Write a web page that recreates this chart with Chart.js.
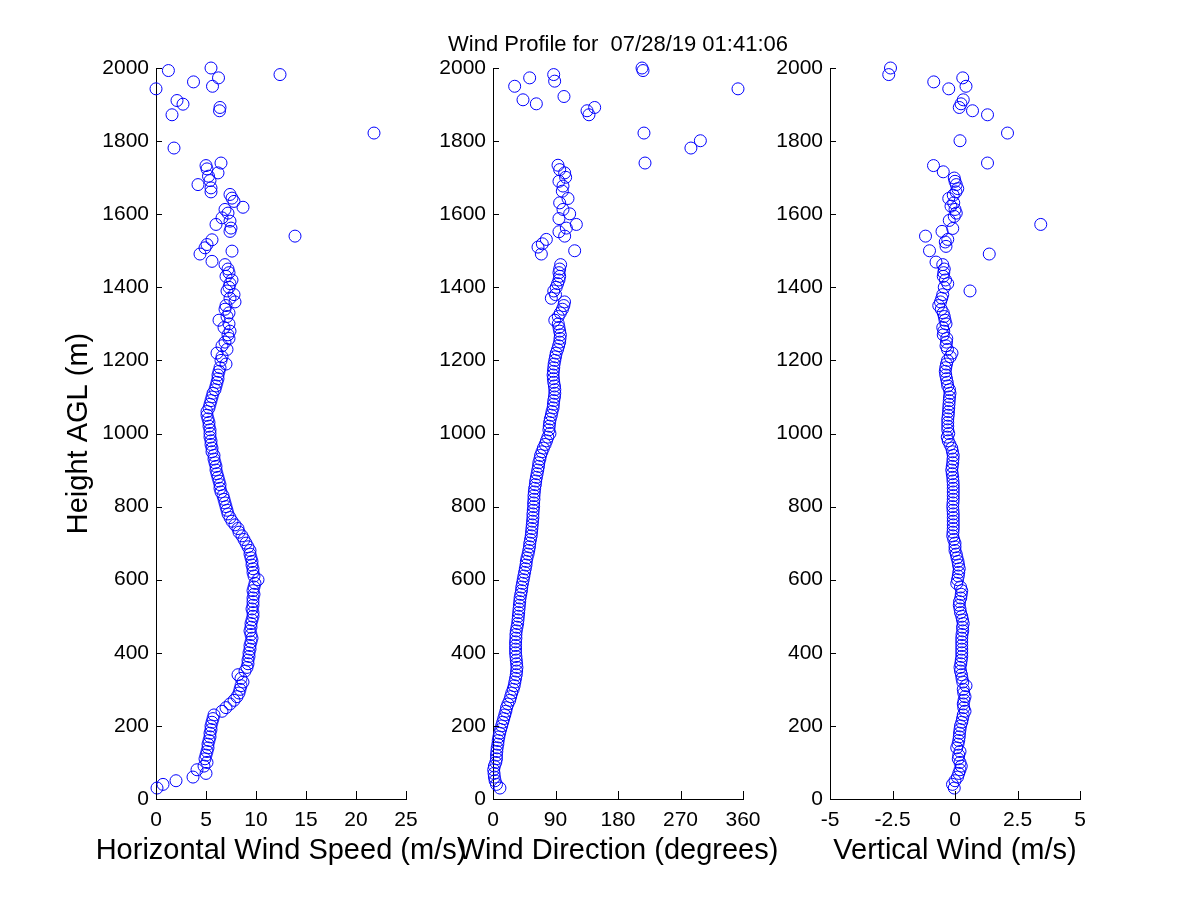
<!DOCTYPE html>
<html>
<head>
<meta charset="utf-8">
<script src="https://cdn.jsdelivr.net/npm/chart.js@4.4.1/dist/chart.umd.min.js"></script>
<style>
html,body{margin:0;padding:0;background:#fff;}
#wrap{position:relative;width:1200px;height:900px;background:#fff;}
#wrap canvas{position:absolute;left:0;top:0;}
</style>
</head>
<body>
<div id="wrap">
<canvas id="c1" width="1200" height="900"></canvas>
<canvas id="c2" width="1200" height="900"></canvas>
<canvas id="c3" width="1200" height="900"></canvas>
</div>
<script>
// ---------- DATA ----------
const titleText = 'Wind Profile for  07/28/19 01:41:06';
const yTitle = 'Height AGL (m)';
const xTitles = ['Horizontal Wind Speed (m/s)', 'Wind Direction (degrees)', 'Vertical Wind (m/s)'];

const yTicks = [0, 200, 400, 600, 800, 1000, 1200, 1400, 1600, 1800, 2000];
const speedTicks = [0, 5, 10, 15, 20, 25];
const dirTicks = [0, 90, 180, 270, 360];
const vertTicks = [-5, -2.5, 0, 2.5, 5];

// dense range gates (m)
const heights = [
  30, 40, 50, 60, 70, 80, 90, 100,
  110, 120, 130, 140, 150, 160, 170, 180, 190, 200,
  210, 220, 230, 240, 250, 260, 270, 280, 290, 300,
  310, 320, 330, 340, 350, 360, 370, 380, 390, 400,
  410, 420, 430, 440, 450, 460, 470, 480, 490, 500,
  510, 520, 530, 540, 550, 560, 570, 580, 590, 600,
  610, 620, 630, 640, 650, 660, 670, 680, 690, 700,
  710, 720, 730, 740, 750, 760, 770, 780, 790, 800,
  810, 820, 830, 840, 850, 860, 870, 880, 890, 900,
  910, 920, 930, 940, 950, 960, 970, 980, 990, 1000,
  1010, 1020, 1030, 1040, 1050, 1060, 1070, 1080, 1090, 1100,
  1110, 1120, 1130, 1140, 1150, 1160, 1170, 1180, 1190, 1200,
  1210, 1220, 1230, 1240, 1250, 1260, 1270, 1280, 1290, 1300,
  1310, 1320, 1330, 1340, 1350, 1360, 1370, 1380, 1390, 1400,
  1410, 1420, 1430, 1440, 1450
];

const speed = [
  0.1, 0.7, 2.0, 3.7, 5.0, 4.1, 4.8, 5.1,
  4.9, 5.0, 5.1, 5.2, 5.2, 5.3, 5.4, 5.4, 5.5, 5.5,
  5.6, 5.7, 5.8, 6.6, 7.0, 7.4, 7.8, 8.1, 8.3, 8.4,
  8.5, 8.7, 8.5, 8.2, 8.9, 9.1, 9.2, 9.2, 9.3, 9.3,
  9.4, 9.4, 9.5, 9.6, 9.5, 9.4, 9.5, 9.5, 9.6, 9.7,
  9.7, 9.6, 9.7, 9.7, 9.7, 9.8, 9.7, 9.8, 9.9, 10.2,
  9.8, 9.7, 9.7, 9.6, 9.6, 9.5, 9.4, 9.4, 9.2, 9.0,
  8.8, 8.6, 8.3, 8.2, 7.9, 7.6, 7.4, 7.2, 7.1, 7.0,
  6.9, 6.8, 6.7, 6.5, 6.4, 6.4, 6.3, 6.2, 6.1, 6.0,
  6.0, 5.9, 5.8, 5.8, 5.6, 5.6, 5.5, 5.5, 5.4, 5.4,
  5.4, 5.3, 5.3, 5.2, 5.1, 5.1, 5.3, 5.4, 5.5, 5.6,
  5.7, 5.9, 6.0, 6.1, 6.2, 6.2, 6.3, 6.4, 7.0, 6.5,
  6.6, 6.1, 7.1, 6.6, 6.9, 7.3, 7.2, 7.4, 6.8, 7.3,
  6.3, 7.1, 7.3, 6.9, 7.0, 7.9, 7.4, 7.8, 7.1, 7.3,
  7.4, 7.6, 7.0, 7.3, 7.2
];

const direction = [
  10, 5, 3, 2, 1.5, 1, 2, 4,
  5, 5, 5.5, 6, 7, 7.5, 8.5, 9.6, 11, 12.5,
  14, 15.5, 17, 18.5, 19.5, 21.5, 24, 25.5, 27, 29,
  30.5, 31.5, 32.5, 33.5, 34, 34.5, 34, 33.5, 33, 32.5,
  32.5, 32.5, 32.5, 33, 33, 33.5, 34.5, 35.5, 36, 36.5,
  37, 37.5, 38, 38.5, 39, 40, 41, 41.5, 42.5, 43.5,
  44.5, 45.5, 46.5, 47.5, 48, 49, 50.5, 51.5, 52.5, 53,
  54, 55, 55.5, 56, 56.5, 57, 57.5, 57.5, 58, 58.5,
  58.5, 59, 59, 59.5, 60, 61, 61.5, 62.5, 63.5, 64.5,
  65.5, 66, 67.5, 68.5, 70.5, 72.5, 75, 77, 79, 82,
  80.5, 81, 81.5, 82.5, 84, 85, 86.5, 87, 87.5, 88.5,
  89, 89, 88.5, 87.5, 87, 86.5, 87, 87.5, 88, 89,
  90, 91, 93, 94.5, 96, 96.5, 97, 96, 95, 94,
  89, 94, 97, 100, 102, 103, 84, 90, 87.5, 91,
  93, 95, 96, 95, 96
];

const vertical = [
  -0.03, -0.1, 0.0, 0.1, 0.15, 0.2, 0.25, 0.2,
  0.13, 0.15, 0.2, 0.07, 0.12, 0.15, 0.17, 0.18, 0.2, 0.22,
  0.27, 0.3, 0.33, 0.4, 0.35, 0.33, 0.36, 0.4, 0.35, 0.33,
  0.44, 0.31, 0.28, 0.26, 0.22, 0.2, 0.23, 0.25, 0.27, 0.27,
  0.27, 0.27, 0.27, 0.27, 0.28, 0.31, 0.3, 0.33, 0.3, 0.27,
  0.22, 0.2, 0.17, 0.18, 0.23, 0.25, 0.27, 0.22, 0.07, 0.1,
  0.13, 0.15, 0.17, 0.14, 0.12, 0.08, 0.05, 0.0, 0.0, 0.0,
  -0.05, -0.09, -0.08, -0.07, -0.07, -0.07, -0.07, -0.07, -0.08, -0.09,
  -0.08, -0.07, -0.07, -0.07, -0.07, -0.07, -0.08, -0.09, -0.11, -0.13,
  -0.11, -0.09, -0.08, -0.07, -0.1, -0.13, -0.2, -0.27, -0.31, -0.25,
  -0.29, -0.29, -0.29, -0.29, -0.27, -0.26, -0.25, -0.24, -0.23, -0.22,
  -0.2, -0.22, -0.29, -0.31, -0.34, -0.37, -0.39, -0.37, -0.34, -0.3,
  -0.19, -0.12, -0.3, -0.36, -0.34, -0.33, -0.47, -0.45, -0.49, -0.36,
  -0.4, -0.43, -0.47, -0.55, -0.65, -0.58, -0.53, -0.49, 0.6, -0.43,
  -0.29, -0.38, -0.47, -0.45, -0.43
];

// sparse upper gates, per panel
const speedUpHeights = [1462, 1471, 1491, 1499, 1508, 1517, 1530, 1540, 1553, 1562, 1572, 1581, 1590, 1603, 1613, 1619, 1635, 1644, 1654, 1661, 1672, 1681, 1692, 1704, 1713, 1724, 1733, 1740, 1781, 1822, 1872, 1883, 1892, 1901, 1911, 1943, 1950, 1962, 1973, 1982, 1993, 2000];
const speedUp = [6.9, 5.6, 4.4, 7.6, 4.9, 5.1, 5.6, 13.9, 7.4, 7.5, 6.0, 7.4, 6.6, 7.2, 6.9, 8.7, 7.8, 7.6, 7.4, 5.5, 5.5, 4.2, 5.4, 5.25, 6.2, 5.1, 5.0, 6.5, 1.8, 21.8, 1.6, 6.35, 6.4, 2.7, 2.1, 0.0, 5.65, 3.75, 6.25, 12.4, 1.24, 5.5];

const dirUpHeights = [1462, 1491, 1500, 1510, 1519, 1531, 1540, 1552, 1562, 1572, 1588, 1601, 1613, 1631, 1643, 1663, 1677, 1690, 1701, 1713, 1722, 1734, 1740, 1781, 1801, 1822, 1872, 1883, 1892, 1902, 1913, 1922, 1943, 1950, 1964, 1973, 1982, 1993, 2000];
const dirUp = [97.4, 69.6, 117.6, 64.8, 71, 76.8, 103.2, 95, 105.6, 120, 95, 110.4, 100.8, 96, 108, 99.8, 100.8, 95, 104.6, 103.2, 96, 93.6, 218.9, 285, 298.6, 217.4, 138.2, 135.4, 146.4, 62.4, 43.2, 102.2, 352.8, 31.2, 88.8, 52.8, 87.4, 216, 214.6];

const vertUpHeights = [1462, 1469, 1491, 1500, 1512, 1524, 1531, 1540, 1553, 1561, 1572, 1583, 1594, 1603, 1613, 1622, 1631, 1643, 1652, 1661, 1670, 1681, 1690, 1699, 1716, 1733, 1740, 1801, 1822, 1872, 1883, 1892, 1902, 1913, 1943, 1950, 1962, 1973, 1982, 2000];
const vertUp = [-0.49, -0.76, 1.37, -1.02, -0.36, -0.39, -0.29, -1.18, -0.52, -0.09, 3.43, -0.23, -0.03, 0.05, 0.0, -0.16, -0.05, -0.25, -0.07, 0.04, 0.11, 0.05, 0.0, -0.03, -0.47, -0.86, 1.3, 0.2, 2.1, 1.3, 0.7, 0.17, 0.24, 0.33, -0.25, 0.44, -0.85, 0.31, -2.65, -2.58];

// ---------- RENDERING ----------
const FONT = "'Liberation Sans', Arial, Helvetica, sans-serif";

function points(hs, vs, upH, upV) {
  const pts = hs.map((h, i) => ({ x: vs[i], y: h }));
  upH.forEach((h, i) => pts.push({ x: upV[i], y: h }));
  return pts;
}

const inwardTicks = {
  id: 'inwardTicks',
  afterDraw(chart) {
    const { ctx, chartArea, scales } = chart;
    ctx.save();
    ctx.strokeStyle = '#000';
    ctx.lineWidth = 1;
    ctx.beginPath();
    scales.x.ticks.forEach(t => {
      const px = Math.round(scales.x.getPixelForValue(t.value)) + 0.5;
      ctx.moveTo(px, chartArea.bottom);
      ctx.lineTo(px, chartArea.bottom - 8);
    });
    scales.y.ticks.forEach(t => {
      const py = Math.round(scales.y.getPixelForValue(t.value)) + 0.5;
      ctx.moveTo(chartArea.left, py);
      ctx.lineTo(chartArea.left + 6, py);
    });
    ctx.stroke();
    ctx.restore();
  }
};

// panel texts (top title and x-axis title) drawn unsquashed around the chart area
const panelTexts = {
  id: 'panelTexts',
  afterDraw(chart, args, opts) {
    const { ctx, chartArea } = chart;
    const cx = (chartArea.left + chartArea.right) / 2;
    ctx.save();
    ctx.fillStyle = '#000';
    ctx.textAlign = 'center';
    ctx.textBaseline = 'alphabetic';
    if (opts && opts.title) {
      ctx.font = '22px ' + FONT;
      ctx.fillText(opts.title, cx, 51);
    }
    if (opts && opts.xTitle) {
      ctx.font = '29px ' + FONT;
      ctx.fillText(opts.xTitle, cx, chartArea.bottom + 60);
    }
    ctx.restore();
  }
};

function makePanel(canvasId, data, xMin, xMax, xTickVals, xTitle, left, right, showYTitle, title) {
  const yWidth = showYTitle ? 94 : 60;
  return new Chart(document.getElementById(canvasId), {
    type: 'scatter',
    data: {
      datasets: [{
        data: data,
        showLine: false,
        pointStyle: 'circle',
        pointRadius: 6,
        pointHoverRadius: 6,
        borderWidth: 1,
        borderColor: '#0000ff',
        backgroundColor: 'rgba(0,0,0,0)',
        clip: false
      }]
    },
    options: {
      responsive: false,
      animation: false,
      events: [],
      layout: {
        padding: { left: left - yWidth, right: 1200 - right, top: 68, bottom: 900 - 799 - 68 }
      },
      plugins: {
        legend: { display: false },
        tooltip: { enabled: false },
        title: { display: false },
        panelTexts: { title: title, xTitle: xTitle }
      },
      scales: {
        x: {
          type: 'linear',
          min: xMin,
          max: xMax,
          afterBuildTicks: s => { s.ticks = xTickVals.map(v => ({ value: v })); },
          afterFit: s => { s.height = 68; },
          grid: { display: false, drawTicks: false },
          border: { display: true, color: '#000', width: 1 },
          ticks: {
            color: '#000',
            font: { family: FONT, size: 21 },
            padding: 9,
            maxRotation: 0,
            autoSkip: false,
            callback: v => String(v)
          },
          title: { display: false }
        },
        y: {
          type: 'linear',
          min: 0,
          max: 2000,
          afterBuildTicks: s => { s.ticks = yTicks.map(v => ({ value: v })); },
          afterFit: s => { s.width = yWidth; },
          grid: { display: false, drawTicks: false },
          border: { display: true, color: '#000', width: 1 },
          ticks: {
            color: '#000',
            font: { family: FONT, size: 21 },
            padding: 7,
            autoSkip: false,
            callback: v => String(v)
          },
          title: {
            display: showYTitle,
            text: yTitle,
            color: '#000',
            font: { family: FONT, size: 29 },
            padding: 0
          }
        }
      }
    },
    plugins: [inwardTicks, panelTexts]
  });
}

makePanel('c1', points(heights, speed, speedUpHeights, speedUp), 0, 25, speedTicks, xTitles[0], 156, 406, true, null);
makePanel('c2', points(heights, direction, dirUpHeights, dirUp), 0, 360, dirTicks, xTitles[1], 493, 743, false, titleText);
makePanel('c3', points(heights, vertical, vertUpHeights, vertUp), -5, 5, vertTicks, xTitles[2], 830, 1080, false, null);
</script>
</body>
</html>
